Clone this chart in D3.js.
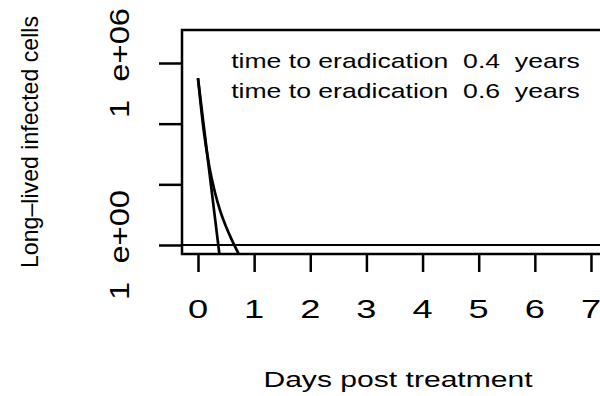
<!DOCTYPE html>
<html><head><meta charset="utf-8">
<script src="https://cdn.jsdelivr.net/npm/d3@7"></script>
<style>
body{margin:0;background:#fff}
svg{display:block}
text{font-family:"Liberation Sans",Arial,Helvetica,sans-serif;fill:#000;white-space:pre}
</style>
</head><body><svg id="c" width="600" height="396"></svg>
<script>
// ---- data ----
const xTicks = [0, 1, 2, 3, 4, 5, 6, 7];
const yTicks = [1, 1e2, 1e4, 1e6];
const yTickLabels = ["1  e+00", "", "", "1  e+06"];
const timeA = [0, 0.1, 0.2, 0.3, 0.4];
const valueA = [3.1e5, 9.3e3, 2.8e2, 8.5, 0.26];
const timeB = [0, 0.1, 0.2, 0.3, 0.4, 0.5, 0.6, 0.7, 0.8];
const valueB = [3.16e5, 6.3e3, 398, 56, 12.6, 4.0, 1.51, 0.63, 0.28];
const annotations = ["time to eradication  0.4  years", "time to eradication  0.6  years"];
const xTitle = "Days post treatment";
const yTitle = "Long\u2013lived infected cells";
const refLine = 1;

// ---- layout ----
const L = 182, R = 614, T = 30, B = 254;
const svg = d3.select("#c");
const x = d3.scaleLinear().domain([-0.285, 7.41]).range([L, R]);
const y = d3.scaleLog().domain([Math.pow(10, -0.297), Math.pow(10, 7.088)]).range([B, T]);

svg.append("defs").append("clipPath").attr("id", "clip")
  .append("rect").attr("x", L).attr("y", T).attr("width", R - L).attr("height", B - T);

const plot = svg.append("g").attr("clip-path", "url(#clip)");
const line = d3.line().x(d => x(d[0])).y(d => y(d[1])).curve(d3.curveMonotoneX);
[[timeA, valueA], [timeB, valueB]].forEach(([t, v]) => {
  plot.append("path").datum(t.map((ti, i) => [ti, v[i]]))
    .attr("d", line).attr("fill", "none").attr("stroke", "#000").attr("stroke-width", 2.7);
});
plot.append("line").attr("x1", L).attr("x2", R).attr("y1", y(refLine)).attr("y2", y(refLine))
  .attr("stroke", "#000").attr("stroke-width", 2.2);

// box
svg.append("rect").attr("x", L).attr("y", T).attr("width", R - L).attr("height", B - T)
  .attr("fill", "none").attr("stroke", "#000").attr("stroke-width", 2.5);

// x axis
const xAxis = svg.append("g").attr("transform", `translate(0,${B})`)
  .call(d3.axisBottom(x).tickValues(xTicks).tickSize(18).tickFormat(""));
xAxis.select(".domain").remove();
xAxis.selectAll(".tick line").attr("stroke", "#000").attr("stroke-width", 2.5);
xTicks.forEach(v => {
  svg.append("text").attr("transform", `translate(${x(v)},318) scale(1.45,1)`)
    .attr("text-anchor", "middle").attr("font-size", 25).text(String(v));
});

// y axis
const yAxis = svg.append("g").attr("transform", `translate(${L},0)`)
  .call(d3.axisLeft(y).tickValues(yTicks).tickSize(23).tickFormat(""));
yAxis.select(".domain").remove();
yAxis.selectAll(".tick line").attr("stroke", "#000").attr("stroke-width", 2.5);
yTicks.forEach((v, i) => {
  if (!yTickLabels[i]) return;
  svg.append("text").attr("transform", `translate(129,${y(v)}) rotate(-90)`)
    .attr("text-anchor", "middle").attr("font-size", 27)
    .attr("textLength", 110).attr("lengthAdjust", "spacingAndGlyphs")
    .text(yTickLabels[i]);
});

// annotations
annotations.forEach((s, i) => {
  svg.append("text").attr("transform", `translate(405.5,${68 + i * 30}) scale(1.33,1)`)
    .attr("text-anchor", "middle").attr("font-size", 20).text(s);
});

// titles
svg.append("text").attr("transform", `translate(${(L + R) / 2},387) scale(1.4,1)`)
  .attr("text-anchor", "middle").attr("font-size", 21.5).text(xTitle);
svg.append("text").attr("transform", `translate(38,${(T + B) / 2}) rotate(-90)`)
  .attr("text-anchor", "middle").attr("font-size", 24)
  .attr("textLength", 252).attr("lengthAdjust", "spacingAndGlyphs").text(yTitle);
</script></body></html>
